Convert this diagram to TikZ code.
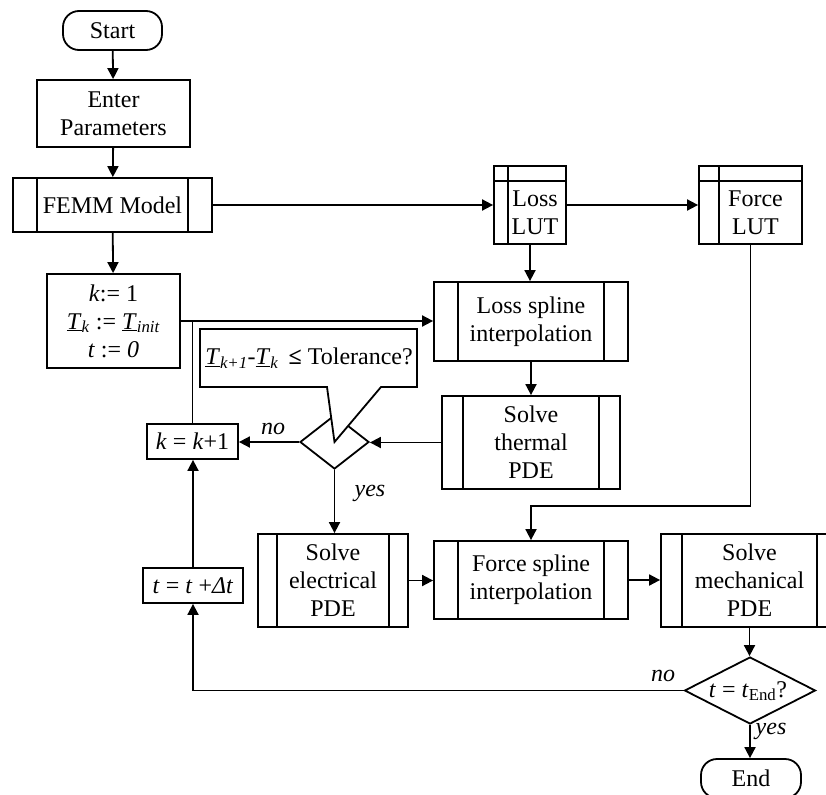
\documentclass[tikz,border=0pt]{standalone}
\usepackage{fontspec}
\setmainfont{Liberation Serif}
\usetikzlibrary{shapes.geometric,arrows.meta,calc}
\begin{document}
\begin{tikzpicture}[x=1pt,y=-1pt,
  font=\fontsize{24}{28}\selectfont,
  every node/.style={inner sep=0pt, line width=1.8pt},
  line width=1.8pt,
  box/.style={draw, rectangle, align=center},
  term/.style={draw, rectangle, rounded corners=16pt, align=center},
  subr/.style={draw, rectangle, align=center,
    path picture={\draw[line width=1.8pt]
      ([xshift=#1]path picture bounding box.north west) -- ([xshift=#1]path picture bounding box.south west)
      ([xshift=-#1]path picture bounding box.north east) -- ([xshift=-#1]path picture bounding box.south east);}},
  lut/.style={draw, rectangle,
    path picture={\draw[line width=1.8pt]
      ([yshift=-15pt]path picture bounding box.north west) -- ([yshift=-15pt]path picture bounding box.north east)
      ([xshift=#1]path picture bounding box.north west) -- ([xshift=#1]path picture bounding box.south west);}},
  dec/.style={draw, diamond, inner sep=0pt},
  arr/.style={-{Triangle[length=11pt,width=11pt]}},
  lbl/.style={font=\fontsize{24}{28}\selectfont\itshape},
]
\useasboundingbox (0,0) rectangle (826,794);
\clip (0,0) rectangle (826,794);

\node[term, minimum width=99, minimum height=39] (start) at (112.5,30.5) {Start};
\node[box, minimum width=153, minimum height=67] (enter) at (113.5,113.5) {Enter\\Parameters};
\node[subr=24pt, minimum width=199, minimum height=54] (femm) at (112.5,205) {FEMM Model};
\node[box, minimum width=133, minimum height=94] (init) at (113.5,321)
  {\textit{k}:= 1\\ \underline{\textit{T}}\textsubscript{\textit{k}} := \underline{\textit{T}}\textsubscript{\textit{init}}\\ \textit{t} := \textit{0}};
\node[lut=14pt, minimum width=72, minimum height=78] (llut) at (530,205) {};
\node[align=center] (llutt) at (535,213) {Loss\\LUT};
\node[lut=20pt, minimum width=103, minimum height=78] (flut) at (750.5,205) {};
\node[align=center] (flutt) at (755.5,213) {Force\\LUT};
\node[subr=24pt, minimum width=194, minimum height=79] (lspl) at (531,321.5) {Loss spline\\interpolation};
\node[subr=21pt, minimum width=178, minimum height=93] (therm) at (531,442.5) {Solve\\thermal\\PDE};
\node[dec, minimum width=69, minimum height=54] (d1) at (334.5,442) {};
\draw[fill=white] (200,329) -- (417,329) -- (417,387) -- (381,387) -- (d1.center) -- (327,387) -- (200,387) -- cycle;
\node (tol) at (309,358) {\underline{\textit{T}}\textsubscript{\textit{k+1}}-\underline{\textit{T}}\textsubscript{\textit{k}}\, \textbf{≤} Tolerance?};
\node[box, minimum width=91, minimum height=35] (kk) at (192.5,441.5) {\textit{k} = \textit{k}+1};
\node[box, minimum width=100, minimum height=35] (tt) at (193,585.5) {\textit{t} = \textit{t} +\textit{Δt}};
\node[subr=19pt, minimum width=150, minimum height=93] (elec) at (333,580.5) {Solve\\electrical\\PDE};
\node[subr=24pt, minimum width=194, minimum height=78] (fspl) at (531,580) {Force spline\\interpolation};
\node[subr=21pt, minimum width=177, minimum height=93] (mech) at (749.5,580.5) {Solve\\mechanical\\PDE};
\node[dec, minimum width=131, minimum height=67] (d2) at (750,690.5) {};
\node (d2t) at (748,691) {\textit{t} = \textit{t}\textsubscript{End}?};
\node[term, minimum width=100, minimum height=39] (end) at (751,778.5) {End};

\coordinate (fj) at (531,506);

\draw[arr] (start) -- (enter);
\draw[arr] (enter) -- (femm);
\draw[arr] (femm) -- (init);
\draw[arr] (femm) -- (llut);
\draw[arr] (llut) -- (flut);
\draw[arr] (llut.south) -- (llut.south |- lspl.north);
\draw[arr] (init.east) -- (init.east -| lspl.west);
\draw (kk.north) -- (kk.north |- init.east);
\draw[arr] (lspl) -- (therm);
\draw[arr] (therm.west) -- (therm.west -| d1.east);
\draw[arr] (d1.west) -- (d1.west -| kk.east);
\node[lbl] (no1) at (273,429) {no};
\draw[arr] (d1.south) -- (d1.south |- elec.north);
\node[lbl] (yes1) at (370,493) {yes};
\draw[arr] (flut.south) |- (fj) -- (fspl.north);
\draw[arr] (elec.east) -- (elec.east -| fspl.west);
\draw[arr] (fspl.east) -- (fspl.east -| mech.west);
\draw[arr] (mech.south) -- (mech.south |- d2.north);
\draw[arr] (d2.west) -| (tt.south);
\node[lbl] (no2) at (663,676) {no};
\draw[arr] (tt.north) -- (tt.north |- kk.south);
\draw[arr] (d2.south) -- (d2.south |- end.north);
\node[lbl] (yes2) at (771,731) {yes};
\end{tikzpicture}
\end{document}
